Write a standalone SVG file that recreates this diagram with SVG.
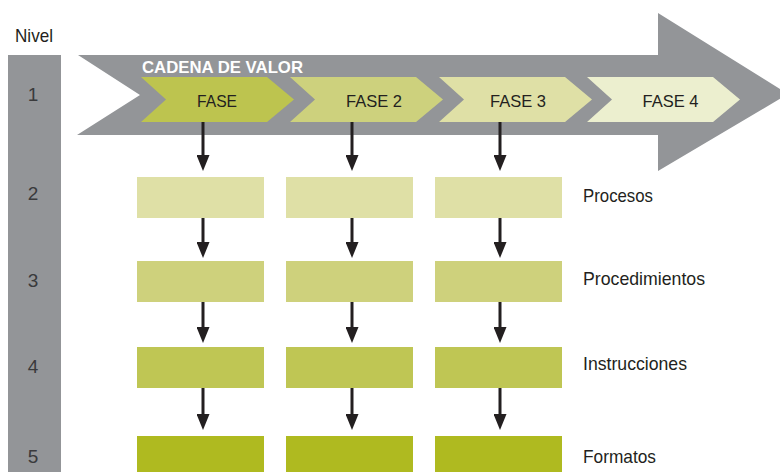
<svg xmlns="http://www.w3.org/2000/svg" width="780" height="472" viewBox="0 0 780 472">
<style>
.t{font-family:"Liberation Sans",Arial,sans-serif;fill:#231f20}
.num{font-size:19px;text-anchor:middle;fill:#3a3a3c}
.lbl{font-size:19px}
.fase{font-size:17px;text-anchor:middle}
.conn{stroke:#231f20;stroke-width:3;fill:none}
</style>
<defs>
<marker id="ah" viewBox="0 0 16 13" refX="10" refY="6.5" markerWidth="16" markerHeight="13" markerUnits="userSpaceOnUse" orient="auto">
<path d="M0,0 L16,6.5 L0,13 z" fill="#231f20"/>
</marker>
</defs>
<rect width="780" height="472" fill="#fff"/>
<g id="nivel-bar">
<rect x="8" y="55" width="53" height="417" fill="#939598"/>
<text class="t" x="15" y="42" font-size="18.5" textLength="38" lengthAdjust="spacingAndGlyphs">Nivel</text>
<text class="t num" x="33" y="101">1</text>
<text class="t num" x="33" y="200">2</text>
<text class="t num" x="33" y="287">3</text>
<text class="t num" x="33" y="373">4</text>
<text class="t num" x="33" y="463">5</text>
</g>
<g id="cadena-valor">
<polygon points="78,55 658,55 658,13 788,94 658,171 658,135 77,135 140,95" fill="#939598"/>
<text x="142" y="73" font-family="Liberation Sans,Arial,sans-serif" font-weight="bold" font-size="17" fill="#fff" textLength="161" lengthAdjust="spacingAndGlyphs">CADENA DE VALOR</text>
</g>
<g id="fase1">
<polygon points="141,77 267,77 294,99.5 267,122 141,122 166,99.5" fill="#bdc44f"/>
<text class="t fase" x="217" y="107" textLength="40" lengthAdjust="spacingAndGlyphs">FASE</text>
</g>
<g id="fase2">
<polygon points="290,77 416,77 443,99.5 416,122 290,122 315,99.5" fill="#cdd17d"/>
<text class="t fase" x="374" y="107" textLength="56" lengthAdjust="spacingAndGlyphs">FASE 2</text>
</g>
<g id="fase3">
<polygon points="439,77 565,77 592,99.5 565,122 439,122 464,99.5" fill="#dfe0a6"/>
<text class="t fase" x="518" y="107" textLength="56" lengthAdjust="spacingAndGlyphs">FASE 3</text>
</g>
<g id="fase4">
<polygon points="587,77 713,77 740,99.5 713,122 587,122 612,99.5" fill="#ecefcf"/>
<text class="t fase" x="670.5" y="107" textLength="56" lengthAdjust="spacingAndGlyphs">FASE 4</text>
</g>
<g id="procesos">
<rect x="137" y="177" width="127" height="41" fill="#dfe0a6"/>
<rect x="286" y="177" width="127" height="41" fill="#dfe0a6"/>
<rect x="435" y="177" width="127" height="41" fill="#dfe0a6"/>
<text class="t lbl" x="583" y="202" textLength="70" lengthAdjust="spacingAndGlyphs">Procesos</text>
</g>
<g id="procedimientos">
<rect x="137" y="261" width="127" height="41" fill="#ced17c"/>
<rect x="286" y="261" width="127" height="41" fill="#ced17c"/>
<rect x="435" y="261" width="127" height="41" fill="#ced17c"/>
<text class="t lbl" x="583" y="285" textLength="122" lengthAdjust="spacingAndGlyphs">Procedimientos</text>
</g>
<g id="instrucciones">
<rect x="137" y="347" width="127" height="41" fill="#bfc654"/>
<rect x="286" y="347" width="127" height="41" fill="#bfc654"/>
<rect x="435" y="347" width="127" height="41" fill="#bfc654"/>
<text class="t lbl" x="583" y="370" textLength="104" lengthAdjust="spacingAndGlyphs">Instrucciones</text>
</g>
<g id="formatos">
<rect x="137" y="436" width="127" height="36" fill="#afba20"/>
<rect x="286" y="436" width="127" height="36" fill="#afba20"/>
<rect x="435" y="436" width="127" height="36" fill="#afba20"/>
<text class="t lbl" x="583" y="463" textLength="73" lengthAdjust="spacingAndGlyphs">Formatos</text>
</g>
<g id="connectors">
<line class="conn" x1="203" y1="122" x2="203" y2="165" marker-end="url(#ah)"/>
<line class="conn" x1="352" y1="122" x2="352" y2="165" marker-end="url(#ah)"/>
<line class="conn" x1="500" y1="122" x2="500" y2="165" marker-end="url(#ah)"/>
<line class="conn" x1="203" y1="218" x2="203" y2="252" marker-end="url(#ah)"/>
<line class="conn" x1="352" y1="218" x2="352" y2="252" marker-end="url(#ah)"/>
<line class="conn" x1="500" y1="218" x2="500" y2="252" marker-end="url(#ah)"/>
<line class="conn" x1="203" y1="302" x2="203" y2="337" marker-end="url(#ah)"/>
<line class="conn" x1="352" y1="302" x2="352" y2="337" marker-end="url(#ah)"/>
<line class="conn" x1="500" y1="302" x2="500" y2="337" marker-end="url(#ah)"/>
<line class="conn" x1="203" y1="388" x2="203" y2="424" marker-end="url(#ah)"/>
<line class="conn" x1="352" y1="388" x2="352" y2="424" marker-end="url(#ah)"/>
<line class="conn" x1="500" y1="388" x2="500" y2="424" marker-end="url(#ah)"/>
</g>
</svg>
